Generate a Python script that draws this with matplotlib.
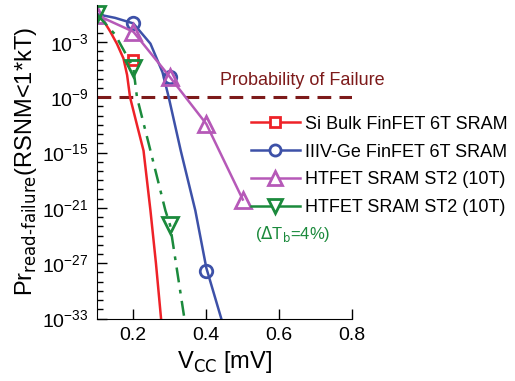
import matplotlib
matplotlib.use("Agg")
import matplotlib.pyplot as plt
from matplotlib.ticker import FixedLocator, NullFormatter

plt.rcParams['font.family'] = ['Liberation Sans', 'DejaVu Sans']

# curve points (log10 of probability)
red_v = [0.1, 0.12, 0.137, 0.155, 0.173, 0.183, 0.191, 0.21, 0.228, 0.247, 0.262, 0.276]
red_p = [-0.1, -0.8, -1.9, -3.2, -4.8, -6.6, -9.0, -12.0, -14.8, -21.3, -27.0, -33.0]
blue_v = [0.1, 0.15, 0.2, 0.247, 0.28, 0.297, 0.33, 0.37, 0.4, 0.441]
blue_p = [0.0, -0.4, -1.0, -3.2, -6.3, -9.0, -14.8, -21.3, -27.5, -33.0]
green_v = [0.1, 0.15, 0.2, 0.21, 0.247, 0.288, 0.301, 0.34]
green_p = [0.0, -2.2, -5.8, -9.0, -14.8, -21.3, -22.9, -33.0]
mag_v = [0.1, 0.2, 0.3, 0.4, 0.5]
mag_p = [-0.1, -1.9, -6.8, -11.9, -20.1]

# marker points
red_mv, red_mp = [0.2], [-5.0]
blue_mv, blue_mp = [0.2, 0.3, 0.4], [-1.0, -6.8, -27.8]
green_mv, green_mp = [0.1, 0.2, 0.3], [0.0, -5.8, -22.9]

fail_level = -9
labels = ["Si Bulk FinFET 6T SRAM", "IIIV-Ge FinFET 6T SRAM",
          "HTFET SRAM ST2 (10T)", "HTFET SRAM ST2 (10T)"]

c_red = '#ee2228'
c_blue = '#3d51a8'
c_mag = '#b659b8'
c_green = '#1b8a3c'
c_fail = '#7d1a1a'

fig = plt.figure(figsize=(5.15, 3.81), dpi=100)
ax = fig.add_axes([0.188, 0.164, 0.496, 0.823])

def p10(vals):
    return [10.0 ** v for v in vals]

lw = 1.8
ax.axhline(10.0 ** fail_level, color=c_fail, lw=2.2, ls=(0, (4.5, 2.7)))

ax.plot(red_v, p10(red_p), color=c_red, lw=lw)
ax.plot(red_mv, p10(red_mp), 's', color=c_red, mfc='white', ms=7, mew=2)
ax.plot(blue_v, p10(blue_p), color=c_blue, lw=lw)
ax.plot(blue_mv, p10(blue_mp), 'o', color=c_blue, mfc='none', ms=9, mew=2)
ax.plot(mag_v, p10(mag_p), '^-', color=c_mag, lw=lw, mfc='none', ms=11, mew=2)
ax.plot(green_v, p10(green_p), color=c_green, lw=lw, ls=(0, (6, 3, 1.5, 3)))
ax.plot(green_mv, p10(green_mp), 'v', color=c_green, mfc='none', ms=11, mew=2)

ax.set_yscale('log')
ax.set_xlim(0.1, 0.8)
ax.set_ylim(1e-33, 1e1)
ax.set_xticks([0.2, 0.4, 0.6, 0.8])
ax.set_xticklabels(['0.2', '0.4', '0.6', '0.8'])
ax.yaxis.set_major_locator(FixedLocator([10.0 ** e for e in range(-33, 0, 6)]))
ax.yaxis.set_minor_locator(FixedLocator([10.0 ** e for e in range(-33, 1)]))
ax.yaxis.set_minor_formatter(NullFormatter())
ax.tick_params(which='major', direction='in', length=7, width=1, labelsize=14, pad=6)
ax.tick_params(which='minor', direction='in', length=4, width=1)
ax.spines['top'].set_visible(False)
ax.spines['right'].set_visible(False)

ax.set_xlabel('V$_{\\mathrm{CC}}$ [mV]', fontsize=17, labelpad=4)
ax.set_ylabel('Pr$_{\\mathrm{read\\text{-}failure}}$(RSNM<1*kT)', fontsize=17, labelpad=2)

ax.text(0.438, 10.0 ** -7.2, 'Probability of Failure', color=c_fail, fontsize=13,
        va='center', ha='left')

# legend
h_red, = ax.plot([], [], 's-', color=c_red, mfc='white', ms=7, mew=2, lw=lw)
h_blue, = ax.plot([], [], 'o-', color=c_blue, mfc='white', ms=8, mew=2, lw=lw)
h_mag, = ax.plot([], [], '^-', color=c_mag, mfc='white', ms=10, mew=2, lw=lw)
h_green, = ax.plot([], [], 'v-', color=c_green, mfc='white', ms=10, mew=2, lw=lw)
fig.legend([h_red, h_blue, h_mag, h_green], labels, loc='upper left',
           bbox_to_anchor=(0.47, 0.72), frameon=False, fontsize=13,
           handlelength=2.7, handletextpad=0.3, labelspacing=0.6, borderpad=0)

ax.text(0.534, 10.0 ** -23.8, '($\\Delta$T$_\\mathrm{b}$=4%)', color=c_green,
        fontsize=12, va='center', ha='left')

fig.savefig('out.png', dpi=100)
